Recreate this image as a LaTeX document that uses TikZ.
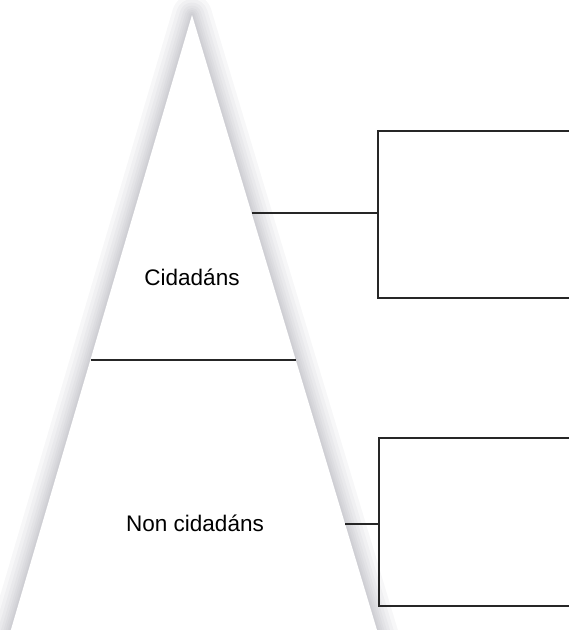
\documentclass[tikz,border=0pt]{standalone}
\usepackage{fontspec}
\setmainfont{Liberation Sans}
\begin{document}
\begin{tikzpicture}[x=1bp,y=-1bp,
  bracketline/.style={draw=black!85,line width=1.3bp},
  shadowline/.style={draw=blue!10!black!45,line join=round,opacity=0.065},
  label/.style={font=\fontsize{22.6}{27}\selectfont,anchor=base,inner sep=0pt}]
\useasboundingbox (0,0) rectangle (569,630);
\coordinate (apex) at (192,15);
\coordinate (bl) at (2,660);
\coordinate (br) at (386,660);
% shadow
\foreach \w in {40,32,25,19,14,10,6,3} {
  \draw[shadowline,line width=\w bp] (apex) -- (bl) -- (br) -- cycle;
}
\fill[white] (apex) -- (bl) -- (br) -- cycle;
% divider
\coordinate (dl) at (91,360);
\coordinate (dr) at (296,360);
\draw[bracketline] (dl) -- (dr);
% labels
\node[label] (cid) at (192,285) {Cidadáns};
\node[label] (non) at (195,531) {Non cidadáns};
% upper bracket
\coordinate (e1) at (252,213);
\coordinate (v1) at (378,213);
\coordinate (t1) at (378,131);
\coordinate (b1) at (378,298);
\coordinate (t1r) at (569,131);
\coordinate (b1r) at (569,298);
\draw[bracketline] (e1) -- (v1);
\draw[bracketline,line cap=rect] (t1r) -- (t1) -- (b1) -- (b1r);
% lower bracket
\coordinate (e2) at (345,524);
\coordinate (v2) at (379,524);
\coordinate (t2) at (379,438);
\coordinate (b2) at (379,606);
\coordinate (t2r) at (569,438);
\coordinate (b2r) at (569,606);
\draw[bracketline] (e2) -- (v2);
\draw[bracketline] (t2r) -- (t2) -- (b2) -- (b2r);
\end{tikzpicture}
\end{document}
